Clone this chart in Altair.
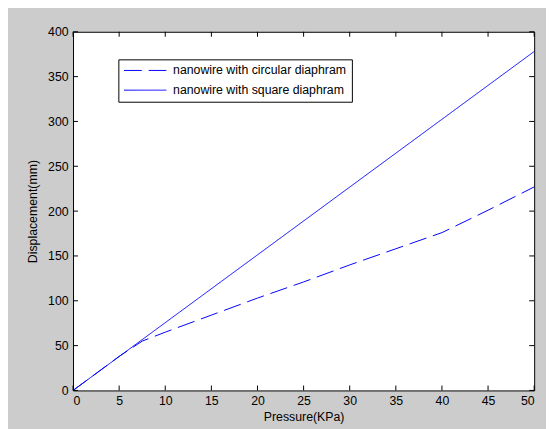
import altair as alt
import pandas as pd

# data
pressure_circ = [0, 5, 7.5, 10, 15, 20, 25, 30, 35, 40, 45, 50]
disp_circ = [0, 38, 55, 65, 84, 103, 121, 140, 158, 176, 201, 227]
pressure_sq = [0, 10, 20, 30, 40, 50]
disp_sq = [0, 75.6, 151.2, 226.8, 302.4, 378]
series_names = ["nanowire with circular diaphram", "nanowire with square diaphram"]
x_ticks = [0, 5, 10, 15, 20, 25, 30, 35, 40, 45, 50]
y_ticks = [0, 50, 100, 150, 200, 250, 300, 350, 400]

W, H = 468, 364
FONT = "Liberation Sans"

df = pd.DataFrame(
    [{"p": p, "d": d, "s": series_names[0]} for p, d in zip(pressure_circ, disp_circ)]
    + [{"p": p, "d": d, "s": series_names[1]} for p, d in zip(pressure_sq, disp_sq)]
)
xt = pd.DataFrame({"v": x_ticks})
yt = pd.DataFrame({"v": y_ticks})

xscale = alt.Scale(domain=[0, 50], nice=False, zero=False)
yscale = alt.Scale(domain=[0, 400], nice=False, zero=False)

lines = alt.Chart(df).mark_line(color="#0000ff", strokeWidth=1, clip=True).encode(
    x=alt.X("p:Q", scale=xscale,
            axis=alt.Axis(title="Pressure(KPa)", values=x_ticks, labelPadding=4, titlePadding=4)),
    y=alt.Y("d:Q", scale=yscale,
            axis=alt.Axis(title="Displacement(mm)", values=y_ticks, labelPadding=5, titlePadding=8)),
    strokeDash=alt.StrokeDash(
        "s:N",
        scale=alt.Scale(domain=series_names, range=[[18, 7], [1, 0]]),
        legend=alt.Legend(
            title=None, orient="none", legendX=46, legendY=28,
            fillColor="white", strokeColor="black", padding=5,
            symbolType="M-4.3,0H4.3", symbolSize=100, symbolStrokeWidth=1,
            symbolStrokeColor="#0000ff", symbolOffset=16, labelOffset=22,
            rowPadding=7, labelFontSize=12.5, labelFont=FONT, labelColor="black",
            labelLimit=0,
        ),
    ),
)

bottom = alt.Chart(xt).mark_rule(color="black").encode(
    x=alt.X("v:Q", scale=xscale), y=alt.value(H), y2=alt.value(H - 5))
top = alt.Chart(xt).mark_rule(color="black").encode(
    x=alt.X("v:Q", scale=xscale), y=alt.value(0), y2=alt.value(5))
left = alt.Chart(yt).mark_rule(color="black").encode(
    y=alt.Y("v:Q", scale=yscale), x=alt.value(0), x2=alt.value(5))
right = alt.Chart(yt).mark_rule(color="black").encode(
    y=alt.Y("v:Q", scale=yscale), x=alt.value(W), x2=alt.value(W - 5))

chart = alt.layer(lines, bottom, top, left, right).properties(
    width=W, height=H,
    autosize=alt.AutoSizeParams(type="none"),
    padding={"left": 66, "top": 21, "right": 12, "bottom": 36},
    background="#cccccc",
).configure_view(
    fill="white", stroke="black", strokeWidth=1,
).configure_axis(
    ticks=False, domain=False, grid=False,
    labelFont=FONT, labelFontSize=12.5, labelColor="black",
    titleFont=FONT, titleFontSize=12.5, titleFontWeight="normal", titleColor="black",
)

chart.save("out.html", embed_options={"renderer": "svg", "actions": False})
